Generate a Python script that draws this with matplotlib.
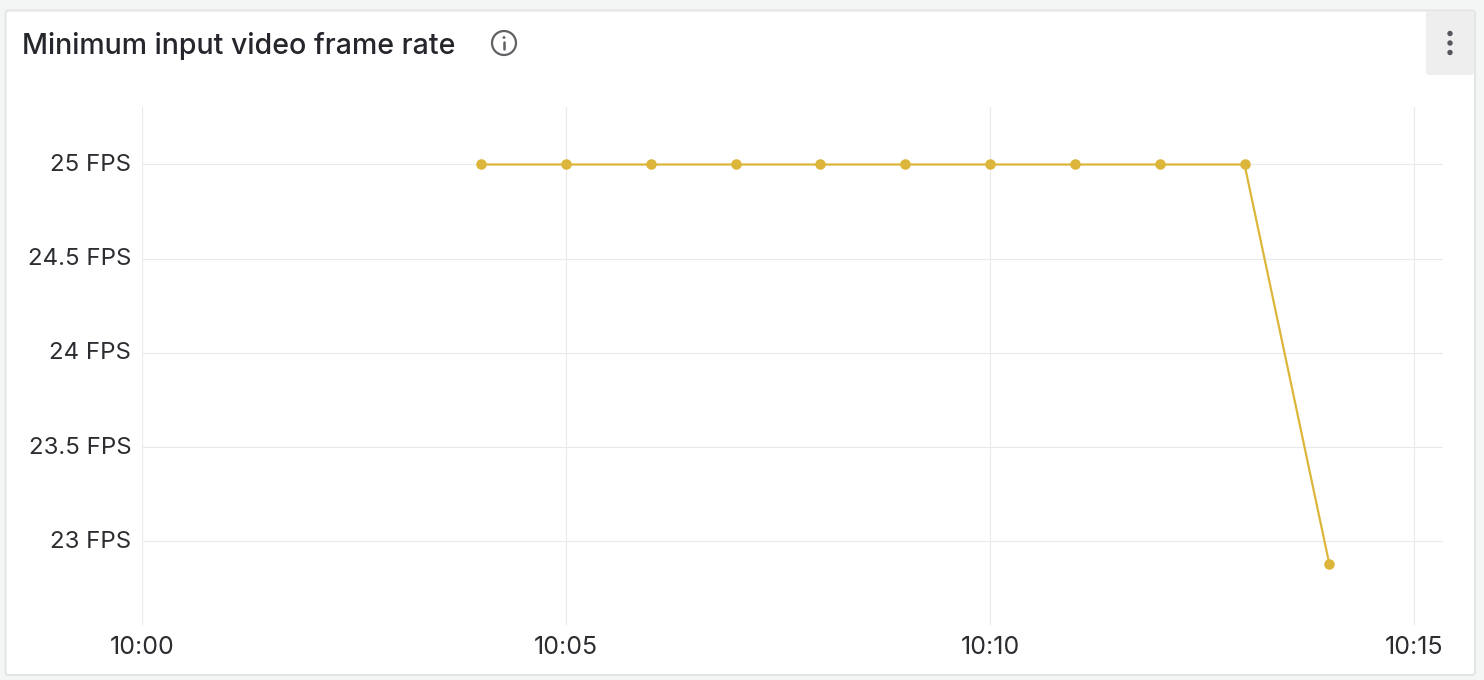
import matplotlib
matplotlib.use("Agg")
import matplotlib.pyplot as plt
from matplotlib.patches import FancyBboxPatch, Circle
from matplotlib.transforms import ScaledTranslation

W, H = 1484, 680
title = "Minimum input video frame rate"
minutes = [4, 5, 6, 7, 8, 9, 10, 11, 12, 13, 14]
fps = [25, 25, 25, 25, 25, 25, 25, 25, 25, 25, 22.88]
x_ticks = [0, 5, 10, 15]
x_labels = ["10:00", "10:05", "10:10", "10:15"]
y_ticks = [23, 23.5, 24, 24.5, 25]
y_labels = ["23 FPS", "23.5 FPS", "24 FPS", "24.5 FPS", "25 FPS"]

plt.rcParams['font.family'] = ['Inter', 'DejaVu Sans']
fig = plt.figure(figsize=(W / 100, H / 100), dpi=100, facecolor='#f4f6f5')

bg = fig.add_axes([0, 0, 1, 1], zorder=0)
bg.set_xlim(0, W); bg.set_ylim(H, 0); bg.axis('off')
bg.add_patch(FancyBboxPatch((5.5, 10.5), 1469.5, 664.5, boxstyle="round,pad=0,rounding_size=3",
                            fc='white', ec='#e3e5e5', lw=1.5))
bg.add_patch(FancyBboxPatch((1426, 11), 48, 64, boxstyle="round,pad=0,rounding_size=3",
                            fc='#eeeeee', ec='none'))
for yy in (33.5, 43, 52.5):
    bg.add_patch(Circle((1450, yy), 2.7, fc='#55575c', ec='none'))
bg.text(22, 46, title, fontsize=20.55, fontweight=500, color='#24262b', va='center', ha='left')
bg.add_patch(Circle((504, 43), 12, fc='none', ec='#5f6165', lw=1.6))
bg.add_patch(Circle((504, 37.5), 1.4, fc='#5f6165', ec='none'))
bg.plot([504, 504], [41.5, 49], color='#5f6165', lw=1.8, solid_capstyle='round')

left, right, top, bottom = 142, 1443, 107, 625
ax = fig.add_axes([left / W, 1 - bottom / H, (right - left) / W, (bottom - top) / H], zorder=1)
ax.patch.set_alpha(0)
ax.set_xlim(0, 15.34)
ax.set_ylim(22.557, 25.305)
for s in ax.spines.values():
    s.set_visible(False)
ax.grid(True, color='#e9eaea', lw=0.8)
ax.set_axisbelow(True)
ax.set_xticks(x_ticks, x_labels)
ax.set_yticks(y_ticks, y_labels)
ax.tick_params(axis='x', length=0, labelsize=18, labelcolor='#2b2d31', pad=8)
ax.tick_params(axis='y', length=0, labelsize=17.3, labelcolor='#2b2d31', pad=7.8)
up = ScaledTranslation(0, 2 / 100, fig.dpi_scale_trans)
for lbl in ax.get_yticklabels():
    lbl.set_transform(lbl.get_transform() + up)
ax.plot(minutes, fps, color='#dcb63a', lw=1.6, marker='o', ms=7.6, mec='none', clip_on=False)

fig.savefig("out.png", dpi=100, facecolor=fig.get_facecolor())
